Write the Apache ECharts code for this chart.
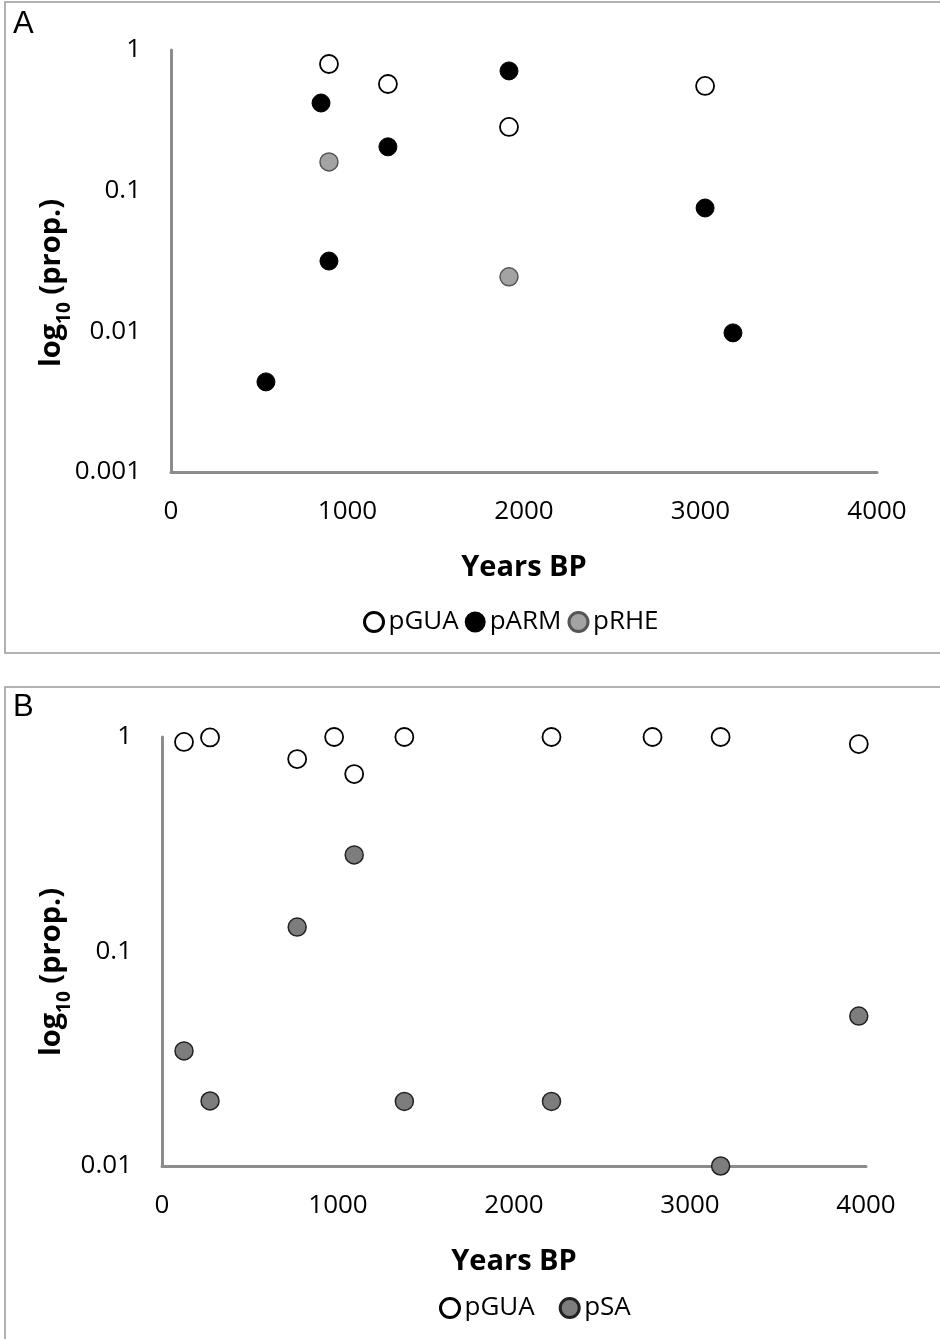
<!DOCTYPE html>
<html>
<head>
<meta charset="utf-8">
<script src="https://cdn.jsdelivr.net/npm/echarts@6/dist/echarts.min.js"></script>
<style>
  html, body { margin: 0; padding: 0; background: #fff; }
  #chart { width: 940px; height: 1339px; }
</style>
</head>
<body>
<div id="chart"></div>
<script>
// panel A : years BP vs proportion
const aGuaYears = [895, 1229, 1915, 3026];
const aGuaProp = [0.795, 0.573, 0.284, 0.555];
const aArmYears = [538, 850, 895, 1229, 1915, 3026, 3184];
const aArmProp = [0.00437, 0.42, 0.0316, 0.205, 0.71, 0.0753, 0.00975];
const aRheYears = [895, 1915];
const aRheProp = [0.16, 0.0244];

// panel B
const bGuaYears = [125, 273, 768, 978, 1092, 1377, 2213, 2787, 3174, 3959];
const bGuaProp = [0.948, 0.995, 0.789, 1.0, 0.672, 1.0, 1.0, 1.0, 1.0, 0.927];
const bSaYears = [125, 273, 768, 1092, 1377, 2213, 3174, 3959];
const bSaProp = [0.0344, 0.0201, 0.13, 0.282, 0.02, 0.02, 0.01, 0.05];

const xTicks = [0, 1000, 2000, 3000, 4000];

const font = '"Open Sans", sans-serif';
const axisGrey = '#8c8c8c';

const pairs = (xs, ys) => xs.map((x, i) => [x, ys[i]]);

const openStyle = { color: '#fff', borderColor: '#000', borderWidth: 1.8, opacity: 1 };
const blackStyle = { color: '#000', borderColor: '#000', borderWidth: 1, opacity: 1 };
const rheStyle = { color: '#a3a3a3', borderColor: '#555', borderWidth: 1.5, opacity: 1 };
const saStyle = { color: '#7d7d7d', borderColor: '#222', borderWidth: 1.5, opacity: 1 };

const xAxisCfg = (gridIndex) => ({
    type: 'value',
    gridIndex: gridIndex,
    min: xTicks[0],
    max: xTicks[xTicks.length - 1],
    interval: 1000,
    name: 'Years BP',
    nameLocation: 'middle',
    nameGap: 81,
    nameTextStyle: { fontFamily: font, fontSize: 29, fontWeight: 'bold', color: '#000' },
    axisLine: { lineStyle: { color: axisGrey, width: 3 } },
    axisTick: { show: false },
    splitLine: { show: false },
    axisLabel: { fontFamily: font, fontSize: 26, color: '#000', margin: 27, formatter: (v) => String(v) }
});

const yAxisCfg = (gridIndex, min) => ({
    type: 'log',
    logBase: 10,
    gridIndex: gridIndex,
    min: min,
    max: 1,
    axisLine: { lineStyle: { color: axisGrey, width: 3 } },
    axisTick: { show: false },
    splitLine: { show: false },
    axisLabel: {
        fontFamily: font, fontSize: 26, color: '#000', margin: 30,
        formatter: (v) => String(+Number(v).toPrecision(3))
    }
});

// y axis title, drawn as rotated rich text (subscript 10)
const yTitle = (x, y) => ({
    type: 'text',
    x: x, y: y,
    rotation: Math.PI / 2,
    style: {
        text: '{b|log}{s|10}{b| (prop.)}',
        align: 'center',
        verticalAlign: 'middle',
        rich: {
            b: { fontFamily: font, fontSize: 29, fontWeight: 'bold', fill: '#000', lineHeight: 44, verticalAlign: 'middle' },
            s: { fontFamily: font, fontSize: 19, fontWeight: 'bold', fill: '#000', lineHeight: 44, verticalAlign: 'bottom' }
        }
    }
});

const legendText = { fontFamily: font, fontSize: 26, color: '#000' };

const chart = echarts.init(document.getElementById('chart'));
chart.setOption({
    backgroundColor: '#fff',
    animation: false,
    graphic: [
        { type: 'rect', shape: { x: 5, y: 2, width: 950, height: 651 }, style: { fill: 'none', stroke: '#999', lineWidth: 1.5 }, z: -1 },
        { type: 'rect', shape: { x: 5, y: 687, width: 950, height: 680 }, style: { fill: 'none', stroke: '#999', lineWidth: 1.5 }, z: -1 },
        { type: 'text', left: 13, top: 9, style: { text: 'A', font: '31px "Liberation Sans", Arial', fill: '#000' } },
        { type: 'text', left: 13, top: 692, style: { text: 'B', font: '31px "Liberation Sans", Arial', fill: '#000' } },
        yTitle(52, 283),
        yTitle(52, 972)
    ],
    grid: [
        { left: 171, top: 50, width: 706, height: 422 },
        { left: 162, top: 737, width: 704, height: 429 }
    ],
    xAxis: [xAxisCfg(0), xAxisCfg(1)],
    yAxis: [yAxisCfg(0, 0.001), yAxisCfg(1, 0.01)],
    legend: [
        {
            data: [
                { name: 'pGUA', itemStyle: { borderWidth: 3 } },
                { name: 'pARM' },
                { name: 'pRHE', itemStyle: { borderWidth: 3 } }
            ],
            left: 358, top: 604,
            itemWidth: 19, itemHeight: 19, itemGap: 6,
            textStyle: legendText
        },
        {
            data: [
                { name: 'pGUA', itemStyle: { borderWidth: 3 } },
                { name: 'pSA', itemStyle: { borderWidth: 3 } }
            ],
            left: 434, top: 1290,
            itemWidth: 19, itemHeight: 19, itemGap: 24,
            textStyle: legendText
        }
    ],
    series: [
        { name: 'pGUA', type: 'scatter', xAxisIndex: 0, yAxisIndex: 0, symbol: 'circle', symbolSize: 18, itemStyle: openStyle, data: pairs(aGuaYears, aGuaProp) },
        { name: 'pARM', type: 'scatter', xAxisIndex: 0, yAxisIndex: 0, symbol: 'circle', symbolSize: 18, itemStyle: blackStyle, data: pairs(aArmYears, aArmProp) },
        { name: 'pRHE', type: 'scatter', xAxisIndex: 0, yAxisIndex: 0, symbol: 'circle', symbolSize: 18, itemStyle: rheStyle, data: pairs(aRheYears, aRheProp) },
        { name: 'pGUA', type: 'scatter', xAxisIndex: 1, yAxisIndex: 1, symbol: 'circle', symbolSize: 18, itemStyle: openStyle, data: pairs(bGuaYears, bGuaProp) },
        { name: 'pSA', type: 'scatter', xAxisIndex: 1, yAxisIndex: 1, symbol: 'circle', symbolSize: 18, itemStyle: saStyle, data: pairs(bSaYears, bSaProp) }
    ]
});
</script>
</body>
</html>
